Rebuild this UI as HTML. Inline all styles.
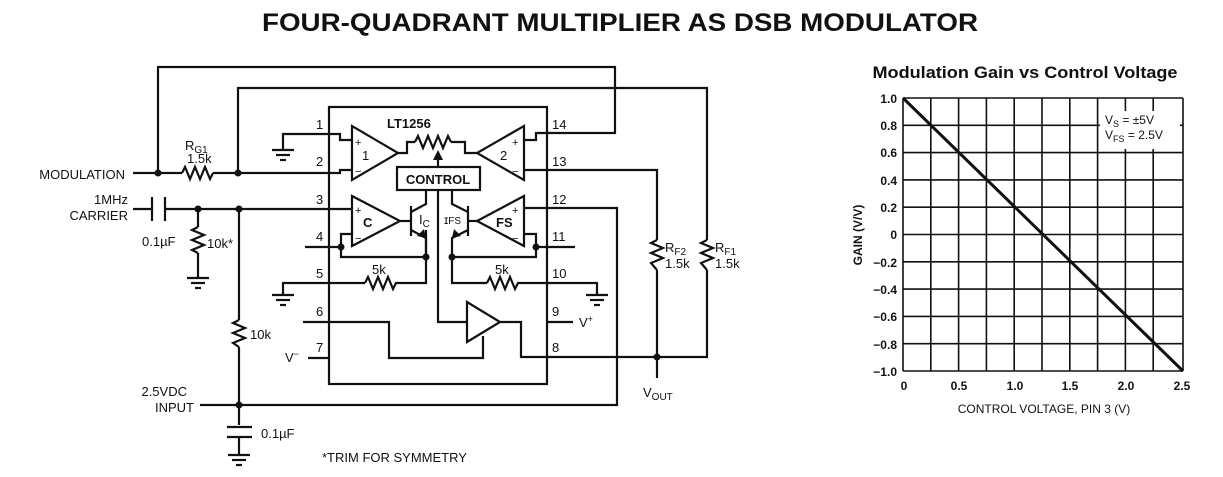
<!DOCTYPE html>
<html><head><meta charset="utf-8"><style>
html,body{margin:0;padding:0;background:#fff;}
svg{display:block;}
text{font-family:"Liberation Sans",Arial,sans-serif;fill:#111;}
</style></head><body>
<svg width="1223" height="477" viewBox="0 0 1223 477" xmlns="http://www.w3.org/2000/svg">
<rect width="1223" height="477" fill="#fff"/>
<text x="620" y="31" font-size="25" font-weight="bold" text-anchor="middle" textLength="716" lengthAdjust="spacingAndGlyphs">FOUR-QUADRANT MULTIPLIER AS DSB MODULATOR</text>

<g stroke="#111" stroke-width="2.2" fill="none" stroke-linejoin="miter">
<!-- top feedback wires -->
<polyline points="158,173 158,67 615,67 615,133 547,133"/>
<polyline points="238,173 238,88 707,88 707,240"/>
<polyline points="707,270 707,357 547,357"/>
<!-- IC box -->
<rect x="329" y="107" width="218" height="277"/>
<!-- modulation -->
<line x1="133" y1="173" x2="182" y2="173"/>
<polyline points="182,173 185,167 190,179 195,167 200,179 205,167 210,179 213,173"/>
<line x1="213" y1="173" x2="329" y2="173"/>
<!-- pin1 ground -->
<polyline points="283,150 283,134 340,134 340,140 352,140"/>
<line x1="272" y1="150" x2="294" y2="150"/><line x1="276" y1="155" x2="290" y2="155"/><line x1="280" y1="160" x2="286" y2="160"/>
<polyline points="329,173 340,173 340,170 352,170"/>
<!-- carrier -->
<line x1="133" y1="209" x2="152" y2="209"/>
<line x1="152" y1="197" x2="152" y2="221"/><line x1="165" y1="197" x2="165" y2="221"/>
<line x1="165" y1="209" x2="352" y2="209"/>
<line x1="198" y1="209" x2="198" y2="227"/>
<polyline points="198,227 192,230 204,235 192,240 204,245 192,250 198,253"/>
<line x1="198" y1="253" x2="198" y2="278"/>
<line x1="187" y1="278" x2="209" y2="278"/><line x1="191" y1="283" x2="205" y2="283"/><line x1="195" y1="288" x2="201" y2="288"/>
<line x1="239" y1="209" x2="239" y2="320"/>
<polyline points="239,320 233,323 245,328 233,333 245,338 233,343 239,347"/>
<line x1="239" y1="347" x2="239" y2="425"/>
<!-- 2.5VDC -->
<polyline points="200,405 617,405 617,208 524,208"/>
<line x1="227" y1="427" x2="252" y2="427"/><line x1="227" y1="437" x2="252" y2="437"/>
<line x1="239" y1="437" x2="239" y2="455"/>
<line x1="228" y1="455" x2="250" y2="455"/><line x1="232" y1="460" x2="246" y2="460"/><line x1="236" y1="465" x2="242" y2="465"/>
<!-- pin4 -->
<line x1="305" y1="247" x2="341" y2="247"/>
<polyline points="341,247 341,234 352,234"/>
<polyline points="341,247 341,257 426,257"/>
<!-- pin5 -->
<polyline points="283,295 283,283 365,283"/>
<line x1="272" y1="295" x2="294" y2="295"/><line x1="276" y1="300" x2="290" y2="300"/><line x1="280" y1="305" x2="286" y2="305"/>
<polyline points="365,283 368,277 373,289 378,277 383,289 388,277 393,289 396,283 426,283 426,230"/>
<!-- pin6 / pin7 -->
<polyline points="303,322 389,322 389,358 483,358 483,336"/>
<line x1="308" y1="358" x2="329" y2="358"/>
<!-- opamp 1 -->
<polygon points="352,126 352,180 398,153"/>
<polyline points="398,153 407,153 407,142 415,142"/>
<polyline points="415,142 418,136 423,148 428,136 433,148 438,136 443,148 448,136 451,142"/>
<polyline points="451,142 465,142 465,153 477,153"/>
<!-- opamp 2 -->
<polygon points="524,126 524,180 477,153"/>
<polyline points="547,133 536,133 536,140 524,140"/>
<polyline points="524,170 536,170 536,170 547,170"/>
<polyline points="547,170 657,170 657,240"/>
<polyline points="657,270 657,357"/>
<line x1="657" y1="357" x2="657" y2="378"/>
<!-- control -->
<rect x="397" y="167" width="83" height="23"/>
<line x1="438" y1="167" x2="438" y2="155"/>
<!-- opamp C -->
<polygon points="352,196 352,246 400,221"/>
<line x1="400" y1="221" x2="411" y2="221"/>
<line x1="411" y1="206" x2="411" y2="236"/>
<polyline points="411,212 426,204 426,190"/>
<polyline points="411,230 426,238 426,257"/>
<!-- FS -->
<polygon points="524,196 524,246 477,221"/>
<line x1="477" y1="221" x2="468" y2="221"/>
<line x1="468" y1="206" x2="468" y2="236"/>
<polyline points="468,212 452,204 452,190"/>
<polyline points="468,230 452,238 452,257"/>
<polyline points="524,234 536,234 536,247 575,247"/>
<polyline points="536,247 536,257 452,257 452,283 487,283"/>
<polyline points="487,283 490,277 495,289 500,277 505,289 510,277 515,289 518,283 597,283 597,295"/>
<line x1="586" y1="295" x2="608" y2="295"/><line x1="590" y1="300" x2="604" y2="300"/><line x1="594" y1="305" x2="600" y2="305"/>
<!-- control line & buffer -->
<polyline points="438,190 438,322 467,322"/>
<polygon points="467,302 467,342 500,322"/>
<polyline points="500,322 521,322 521,357 547,357"/>
<line x1="547" y1="322" x2="573" y2="322"/>
<!-- RF resistors -->
<polyline points="657,240 651,243 663,248 651,253 663,258 651,263 657,270"/>
<polyline points="707,240 701,243 713,248 701,253 713,258 701,263 707,270"/>
</g>
<!-- arrows -->
<g fill="#111">
<polygon points="438,150 433,160 443,160"/>
<polygon points="426,238 417,236 424,229"/>
<polygon points="452,238 461,236 454,229"/>
<circle cx="158" cy="173" r="3.5"/><circle cx="238" cy="173" r="3.5"/>
<circle cx="198" cy="209" r="3.5"/><circle cx="239" cy="209" r="3.5"/>
<circle cx="239" cy="405" r="3.5"/><circle cx="657" cy="357" r="3.5"/>
<circle cx="341" cy="247" r="3.5"/><circle cx="426" cy="257" r="3.5"/>
<circle cx="452" cy="257" r="3.5"/><circle cx="536" cy="247" r="3.5"/>
</g>
<g font-size="13">
<text x="125" y="179" text-anchor="end">MODULATION</text>
<text x="128" y="204" text-anchor="end">1MHz</text>
<text x="128" y="220" text-anchor="end">CARRIER</text>
<text x="142" y="246">0.1µF</text>
<text x="207" y="248">10k*</text>
<text x="250" y="339">10k</text>
<text x="187" y="396" text-anchor="end">2.5VDC</text>
<text x="194" y="412" text-anchor="end">INPUT</text>
<text x="261" y="438">0.1µF</text>
<text x="322" y="462">*TRIM FOR SYMMETRY</text>
<text x="185" y="150">R<tspan font-size="10" dy="3">G1</tspan></text>
<text x="187" y="163">1.5k</text>
<text x="387" y="128" font-weight="bold">LT1256</text>
<text x="438" y="184" text-anchor="middle" font-weight="bold">CONTROL</text>
<text x="362" y="160">1</text><text x="500" y="160">2</text>
<text x="363" y="227" font-weight="bold">C</text><text x="496" y="227" font-weight="bold">FS</text>
<text x="355" y="146" font-size="11">+</text><text x="355" y="175" font-size="11">−</text>
<text x="355" y="214" font-size="11">+</text><text x="355" y="242" font-size="11">−</text>
<text x="512" y="146" font-size="11">+</text><text x="512" y="175" font-size="11">−</text>
<text x="512" y="214" font-size="11">+</text><text x="512" y="242" font-size="11">−</text>
<text x="419" y="224">I<tspan font-size="10" dy="3">C</tspan></text>
<text x="444" y="224" font-size="12">ɪ<tspan font-size="10" dy="0">FS</tspan></text>
<text x="372" y="274">5k</text><text x="495" y="274">5k</text>
<text x="316" y="129">1</text><text x="316" y="166">2</text><text x="316" y="204">3</text>
<text x="316" y="241">4</text><text x="316" y="278">5</text><text x="316" y="316">6</text><text x="316" y="352">7</text>
<text x="552" y="129">14</text><text x="552" y="166">13</text><text x="552" y="204">12</text>
<text x="552" y="241">11</text><text x="552" y="278">10</text><text x="552" y="316">9</text><text x="552" y="352">8</text>
<text x="579" y="327">V<tspan font-size="9" dy="-5">+</tspan></text>
<text x="285" y="362">V<tspan font-size="9" dy="-5">−</tspan></text>
<text x="643" y="397">V<tspan font-size="10" dy="3">OUT</tspan></text>
<text x="665" y="252">R<tspan font-size="10" dy="3">F2</tspan></text>
<text x="665" y="268">1.5k</text>
<text x="715" y="252">R<tspan font-size="10" dy="3">F1</tspan></text>
<text x="715" y="268">1.5k</text>
</g>

<!-- Graph -->
<text x="1025" y="78" font-size="17" font-weight="bold" text-anchor="middle" textLength="305" lengthAdjust="spacingAndGlyphs">Modulation Gain vs Control Voltage</text>
<g stroke="#111" stroke-width="1.6">
<line x1="903" y1="98" x2="903" y2="371"/><line x1="930.8" y1="98" x2="930.8" y2="371"/><line x1="958.6" y1="98" x2="958.6" y2="371"/><line x1="986.4" y1="98" x2="986.4" y2="371"/><line x1="1014.2" y1="98" x2="1014.2" y2="371"/><line x1="1042" y1="98" x2="1042" y2="371"/><line x1="1069.8" y1="98" x2="1069.8" y2="371"/><line x1="1097.6" y1="98" x2="1097.6" y2="371"/><line x1="1125.4" y1="98" x2="1125.4" y2="371"/><line x1="1153.2" y1="98" x2="1153.2" y2="371"/><line x1="1183" y1="98" x2="1183" y2="371"/>
<line x1="903" y1="98" x2="1183" y2="98"/><line x1="903" y1="125.3" x2="1183" y2="125.3"/><line x1="903" y1="152.6" x2="1183" y2="152.6"/><line x1="903" y1="179.9" x2="1183" y2="179.9"/><line x1="903" y1="207.2" x2="1183" y2="207.2"/><line x1="903" y1="234.5" x2="1183" y2="234.5"/><line x1="903" y1="261.8" x2="1183" y2="261.8"/><line x1="903" y1="289.1" x2="1183" y2="289.1"/><line x1="903" y1="316.4" x2="1183" y2="316.4"/><line x1="903" y1="343.7" x2="1183" y2="343.7"/><line x1="903" y1="371" x2="1183" y2="371"/>
</g>
<rect x="1100" y="111" width="80" height="38" fill="#fff"/>
<line x1="903" y1="98" x2="1183" y2="371" stroke="#111" stroke-width="3"/>
<g font-size="12">
<text x="1105" y="124">V<tspan font-size="9" dy="3">S</tspan><tspan dy="-3"> = ±5V</tspan></text>
<text x="1105" y="139">V<tspan font-size="9" dy="3">FS</tspan><tspan dy="-3"> = 2.5V</tspan></text>
</g>
<g font-size="12" font-weight="bold" text-anchor="end">
<text x="897" y="103">1.0</text><text x="897" y="130">0.8</text><text x="897" y="157">0.6</text><text x="897" y="185">0.4</text><text x="897" y="212">0.2</text><text x="897" y="239">0</text><text x="897" y="267">−0.2</text><text x="897" y="294">−0.4</text><text x="897" y="321">−0.6</text><text x="897" y="349">−0.8</text><text x="897" y="376">−1.0</text>
</g>
<g font-size="12" font-weight="bold" text-anchor="middle">
<text x="904" y="390">0</text><text x="959" y="390">0.5</text><text x="1015" y="390">1.0</text><text x="1070" y="390">1.5</text><text x="1126" y="390">2.0</text><text x="1182" y="390">2.5</text>
</g>
<text x="1044" y="413" font-size="12" text-anchor="middle">CONTROL VOLTAGE, PIN 3 (V)</text>
<text transform="translate(862,235) rotate(-90)" font-size="12" font-weight="bold" text-anchor="middle">GAIN (V/V)</text>
</svg>
</body></html>
